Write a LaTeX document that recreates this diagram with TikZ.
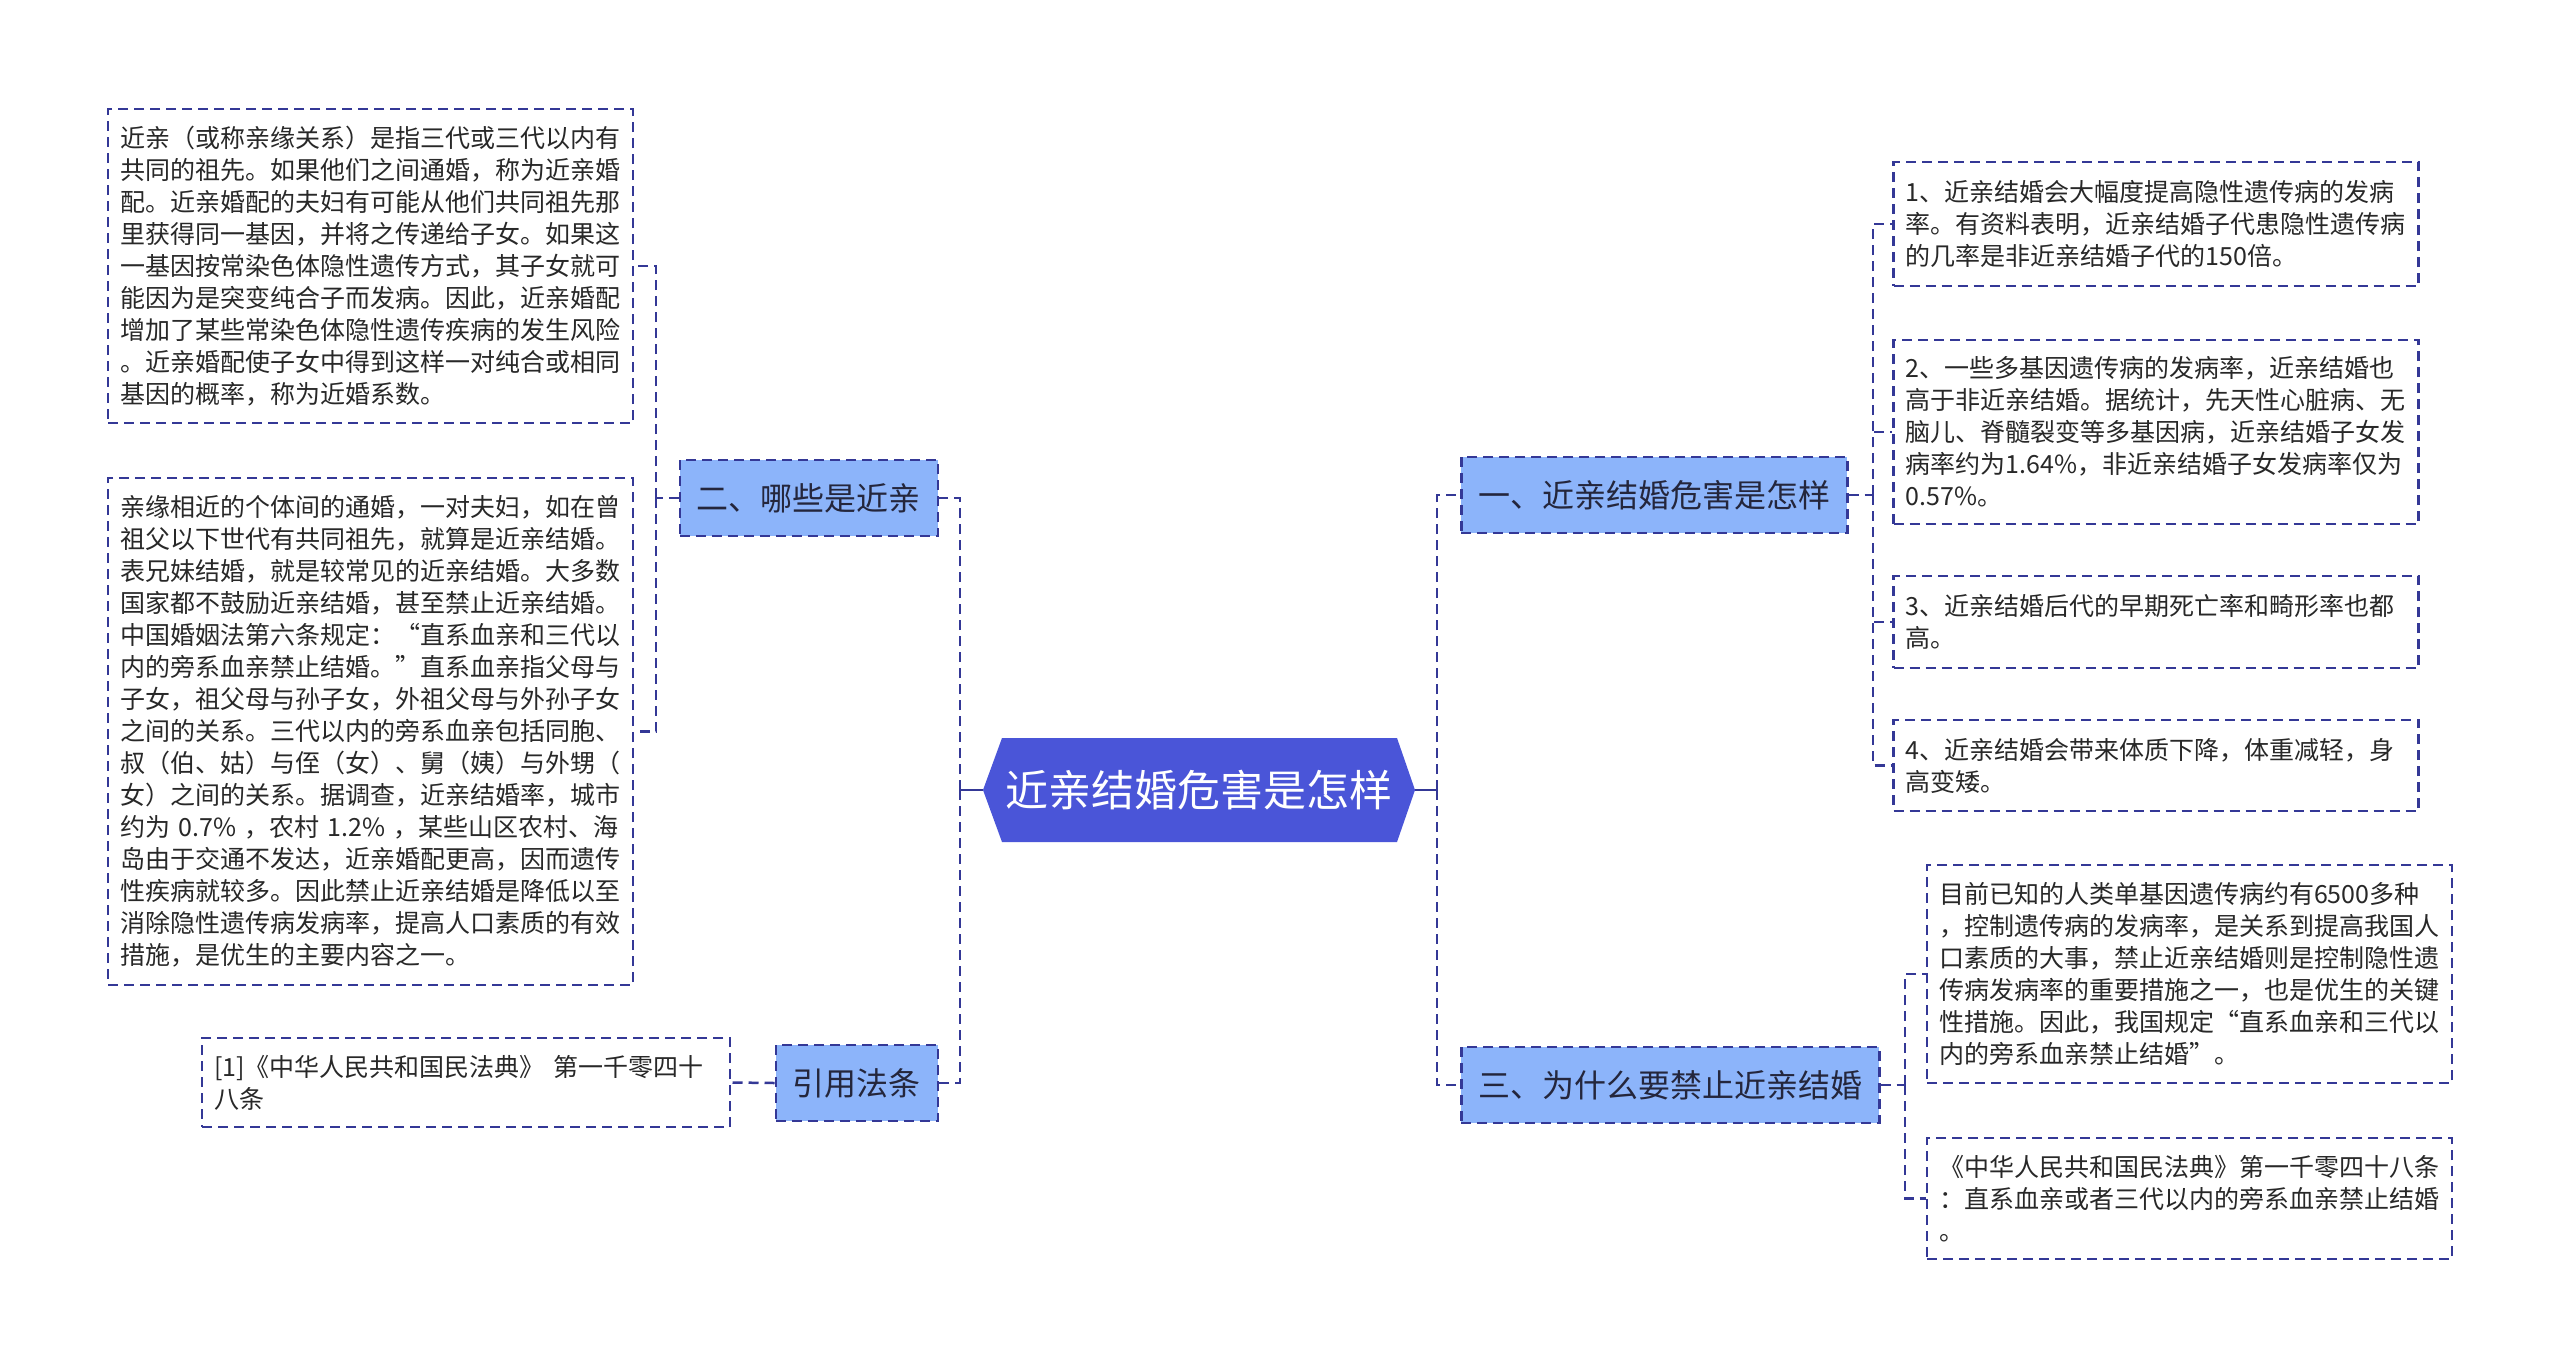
\documentclass[tikz,border=0pt]{standalone}
\usepackage{fontspec}
\setmainfont{Noto Sans CJK SC}
\definecolor{lineblue}{RGB}{52,56,150}
\definecolor{topicblue}{RGB}{140,180,250}
\definecolor{rootblue}{RGB}{74,85,216}
\definecolor{textgray}{RGB}{40,40,40}
\definecolor{topictext}{RGB}{36,38,60}
\begin{document}
\begin{tikzpicture}[x=1pt,y=-1pt,
  conn/.style={draw=lineblue, line width=2.5pt, dash pattern=on 10pt off 6pt},
  solidconn/.style={draw=lineblue, line width=2.5pt},
  leaf/.style={draw=lineblue, line width=2.5pt, dash pattern=on 10pt off 6pt, fill=white,
    text=textgray, font=\fontsize{25}{32}\selectfont, align=left,
    inner xsep=12pt, inner ysep=4pt, text width=501pt},
  topic/.style={draw=lineblue, line width=2.5pt, dash pattern=on 10pt off 6pt, fill=topicblue,
    text=topictext, font=\fontsize{32}{38}\selectfont, inner xsep=17pt, inner ysep=0pt,
    minimum height=76pt},
  rootnode/.style={text=white, font=\fontsize{43}{50}\selectfont, minimum width=432pt,
    minimum height=104pt, inner sep=0pt},
]
\useasboundingbox (0,0) rectangle (2560,1366);
\fill[white] (0,0) rectangle (2560,1366);

% root hexagon
\fill[rootblue] (983,790) -- (1002,738) -- (1397,738) -- (1415,790) -- (1397,842) -- (1002,842) -- cycle;
\node[rootnode] (root) at (1199,790) {近亲结婚危害是怎样};

% level-1 topics
\node[topic, anchor=east] (n2) at (939,498) {二、哪些是近亲};
\node[topic, anchor=east] (ref) at (939,1083) {引用法条};
\node[topic, anchor=west] (n1) at (1460,495) {一、近亲结婚危害是怎样};
\node[topic, anchor=west] (n3) at (1460,1085) {三、为什么要禁止近亲结婚};

% left leaves
\node[leaf, minimum height=314pt] (a) at (370.5,266) {近亲（或称亲缘关系）是指三代或三代以内有\\共同的祖先。如果他们之间通婚，称为近亲婚\\配。近亲婚配的夫妇有可能从他们共同祖先那\\里获得同一基因，并将之传递给子女。如果这\\一基因按常染色体隐性遗传方式，其子女就可\\能因为是突变纯合子而发病。因此，近亲婚配\\增加了某些常染色体隐性遗传疾病的发生风险\\。近亲婚配使子女中得到这样一对纯合或相同\\基因的概率，称为近婚系数。};
\node[leaf, minimum height=507pt] (b) at (370.5,731.5) {亲缘相近的个体间的通婚，一对夫妇，如在曾\\祖父以下世代有共同祖先，就算是近亲结婚。\\表兄妹结婚，就是较常见的近亲结婚。大多数\\国家都不鼓励近亲结婚，甚至禁止近亲结婚。\\中国婚姻法第六条规定：“直系血亲和三代以\\内的旁系血亲禁止结婚。”直系血亲指父母与\\子女，祖父母与孙子女，外祖父母与外孙子女\\之间的关系。三代以内的旁系血亲包括同胞、\\叔（伯、姑）与侄（女）、舅（姨）与外甥（\\女）之间的关系。据调查，近亲结婚率，城市\\约为~0.7\%~，农村~1.2\%~，某些山区农村、海\\岛由于交通不发达，近亲婚配更高，因而遗传\\性疾病就较多。因此禁止近亲结婚是降低以至\\消除隐性遗传病发病率，提高人口素质的有效\\措施，是优生的主要内容之一。};
\node[leaf, text width=504pt, minimum height=89pt] (r1) at (466,1082.5) {[1]《中华人民共和国民法典》~第一千零四十\\八条};

% right leaves
\node[leaf, minimum height=124pt] (c1) at (2156,224) {1、近亲结婚会大幅度提高隐性遗传病的发病\\率。有资料表明，近亲结婚子代患隐性遗传病\\的几率是非近亲结婚子代的150倍。};
\node[leaf, minimum height=184pt] (c2) at (2156,432) {2、一些多基因遗传病的发病率，近亲结婚也\\高于非近亲结婚。据统计，先天性心脏病、无\\脑儿、脊髓裂变等多基因病，近亲结婚子女发\\病率约为1.64\%，非近亲结婚子女发病率仅为\\0.57\%。};
\node[leaf, minimum height=92pt] (c3) at (2156,622) {3、近亲结婚后代的早期死亡率和畸形率也都\\高。};
\node[leaf, minimum height=91pt] (c4) at (2156,765.5) {4、近亲结婚会带来体质下降，体重减轻，身\\高变矮。};
\node[leaf, minimum height=218pt] (d1) at (2189.5,974) {目前已知的人类单基因遗传病约有6500多种\\，控制遗传病的发病率，是关系到提高我国人\\口素质的大事，禁止近亲结婚则是控制隐性遗\\传病发病率的重要措施之一，也是优生的关键\\性措施。因此，我国规定“直系血亲和三代以\\内的旁系血亲禁止结婚”。};
\node[leaf, minimum height=121pt] (d2) at (2189.5,1198.5) {《中华人民共和国民法典》第一千零四十八条\\：直系血亲或者三代以内的旁系血亲禁止结婚\\。};

% connectors: root to topics
\coordinate (tl) at (960,790);
\coordinate (tr) at (1437,790);
\draw[solidconn] (root.west) -- (tl);
\draw[solidconn] (root.east) -- (tr);
\draw[conn] (tl) |- (n2.east);
\draw[conn] (tl) |- (ref.east);
\draw[conn] (tr) |- (n1.west);
\draw[conn] (tr) |- (n3.west);

% topic to leaves
\coordinate (l2) at (656,498);
\draw[conn] (n2.west) -- (l2);
\draw[conn] (l2) |- (a.east);
\draw[conn] (l2) |- (b.east);
\draw[conn] (ref.west) -- (r1.east);

\coordinate (r1c) at (1873,495);
\draw[conn] (n1.east) -- (r1c);
\draw[conn] (r1c) |- (c1.west);
\draw[conn] (r1c) |- (c2.west);
\draw[conn] (r1c) |- (c3.west);
\draw[conn] (r1c) |- (c4.west);

\coordinate (r3c) at (1905,1085);
\draw[conn] (n3.east) -- (r3c);
\draw[conn] (r3c) |- (d1.west);
\draw[conn] (r3c) |- (d2.west);
\end{tikzpicture}
\end{document}
